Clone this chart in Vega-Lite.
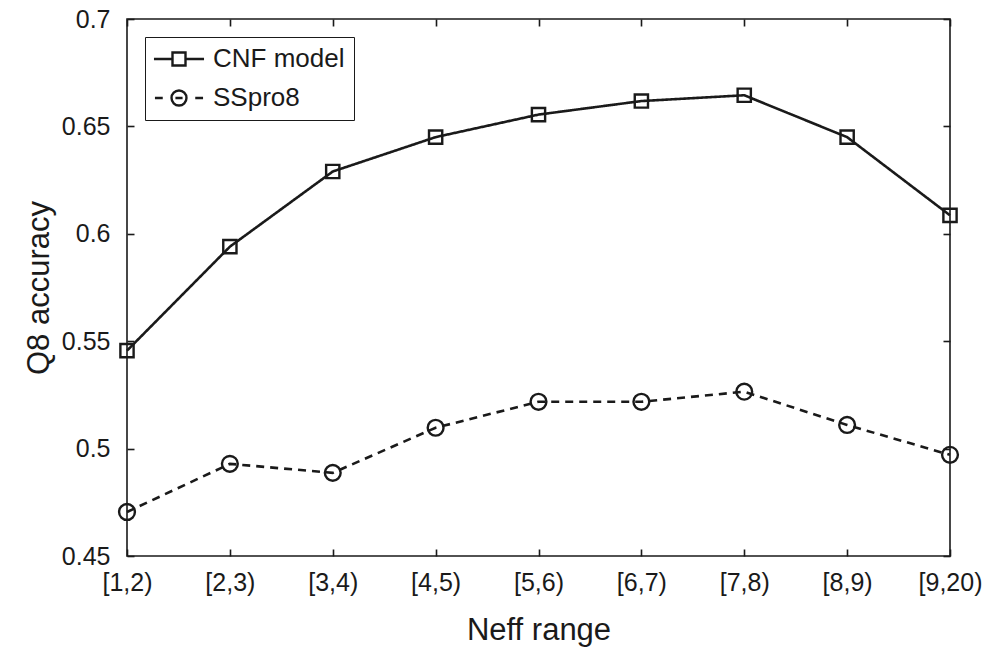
{
  "$schema": "https://vega.github.io/schema/vega-lite/v6.json",
  "width": 823,
  "height": 537,
  "autosize": {"type": "none"},
  "padding": {"left": 127, "top": 19, "right": 40, "bottom": 96},
  "background": "white",
  "config": {
    "font": "Liberation Sans",
    "view": {"stroke": "#1a1a1a", "strokeWidth": 1.6},
    "axis": {
      "domain": false,
      "grid": false,
      "tickColor": "#1a1a1a",
      "tickWidth": 1.6,
      "tickSize": 7,
      "labelColor": "#1a1a1a",
      "titleColor": "#1a1a1a",
      "labelFont": "Liberation Sans",
      "titleFont": "Liberation Sans",
      "labelFontSize": 25,
      "titleFontSize": 31,
      "titleFontWeight": "normal"
    }
  },
  "data": {
    "values": [
      {"range": "[1,2)", "series": "CNF model", "acc": 0.5456},
      {"range": "[2,3)", "series": "CNF model", "acc": 0.594},
      {"range": "[3,4)", "series": "CNF model", "acc": 0.629},
      {"range": "[4,5)", "series": "CNF model", "acc": 0.645},
      {"range": "[5,6)", "series": "CNF model", "acc": 0.6555},
      {"range": "[6,7)", "series": "CNF model", "acc": 0.6618},
      {"range": "[7,8)", "series": "CNF model", "acc": 0.6645},
      {"range": "[8,9)", "series": "CNF model", "acc": 0.645},
      {"range": "[9,20)", "series": "CNF model", "acc": 0.6086},
      {"range": "[1,2)", "series": "SSpro8", "acc": 0.4705},
      {"range": "[2,3)", "series": "SSpro8", "acc": 0.4929},
      {"range": "[3,4)", "series": "SSpro8", "acc": 0.4887},
      {"range": "[4,5)", "series": "SSpro8", "acc": 0.5097},
      {"range": "[5,6)", "series": "SSpro8", "acc": 0.5218},
      {"range": "[6,7)", "series": "SSpro8", "acc": 0.5218},
      {"range": "[7,8)", "series": "SSpro8", "acc": 0.5265},
      {"range": "[8,9)", "series": "SSpro8", "acc": 0.511},
      {"range": "[9,20)", "series": "SSpro8", "acc": 0.4971}
    ]
  },
  "resolve": {"axis": {"x": "independent", "y": "independent"}},
  "layer": [
    {
      "mark": {"type": "line", "color": "#1a1a1a", "strokeWidth": 2.6},
      "encoding": {
        "x": {
          "field": "range",
          "type": "ordinal",
          "sort": ["[1,2)", "[2,3)", "[3,4)", "[4,5)", "[5,6)", "[6,7)", "[7,8)", "[8,9)", "[9,20)"],
          "scale": {"type": "point", "padding": 0},
          "axis": {"title": "Neff range", "labelAngle": 0, "offset": -7, "labelPadding": 14, "titlePadding": 20}
        },
        "y": {
          "field": "acc",
          "type": "quantitative",
          "scale": {"domain": [0.45, 0.7], "nice": false, "zero": false},
          "axis": {"title": "Q8 accuracy", "values": [0.45, 0.5, 0.55, 0.6, 0.65, 0.7], "format": "~g", "offset": -7, "labelPadding": 17, "titlePadding": 6}
        },
        "detail": {"field": "series", "type": "nominal"},
        "strokeDash": {
          "condition": {"test": "datum.series === 'SSpro8'", "value": [8, 6]},
          "value": [1, 0]
        }
      }
    },
    {
      "mark": {"type": "point", "filled": false, "color": "#1a1a1a", "strokeWidth": 2.4, "opacity": 1},
      "encoding": {
        "x": {
          "field": "range",
          "type": "ordinal",
          "sort": ["[1,2)", "[2,3)", "[3,4)", "[4,5)", "[5,6)", "[6,7)", "[7,8)", "[8,9)", "[9,20)"],
          "scale": {"type": "point", "padding": 0},
          "axis": {"orient": "top", "labels": false, "title": null, "offset": -7}
        },
        "y": {
          "field": "acc",
          "type": "quantitative",
          "scale": {"domain": [0.45, 0.7], "nice": false, "zero": false},
          "axis": {"orient": "right", "labels": false, "title": null, "offset": -7, "values": [0.45, 0.5, 0.55, 0.6, 0.65, 0.7]}
        },
        "shape": {
          "condition": {"test": "datum.series === 'SSpro8'", "value": "circle"},
          "value": "square"
        },
        "size": {
          "condition": {"test": "datum.series === 'SSpro8'", "value": 250},
          "value": 175
        }
      }
    },
    {
      "mark": {"type": "point", "filled": false, "color": "#1a1a1a", "strokeWidth": 2.4, "opacity": 0},
      "encoding": {
        "x": {
          "field": "range",
          "type": "ordinal",
          "sort": ["[1,2)", "[2,3)", "[3,4)", "[4,5)", "[5,6)", "[6,7)", "[7,8)", "[8,9)", "[9,20)"],
          "scale": {"type": "point", "padding": 0},
          "axis": null
        },
        "y": {
          "field": "acc",
          "type": "quantitative",
          "scale": {"domain": [0.45, 0.7], "nice": false, "zero": false},
          "axis": null
        },
        "shape": {
          "field": "series",
          "type": "nominal",
          "scale": {
            "domain": ["CNF model", "SSpro8"],
            "range": ["M-3.85,0H-1M-1,-1H1V1H-1ZM1,0H3.85", "M-3.7,0H-2.5M-1.15,0A1.15,1.15 0 1,1 1.15,0A1.15,1.15 0 1,1 -1.15,0M2.5,0H3.7M-0.55,0H0.55"]
          },
          "legend": {
            "title": null,
            "orient": "top-left",
            "offset": 18,
            "padding": 9,
            "strokeColor": "#1a1a1a",
            "fillColor": "white",
            "symbolSize": 169,
            "symbolStrokeColor": "#1a1a1a",
            "symbolFillColor": "transparent",
            "symbolStrokeWidth": 2.4,
            "symbolOpacity": 1,
            "symbolOffset": 12,
            "labelOffset": 21,
            "labelFontSize": 26,
            "labelColor": "#1a1a1a",
            "labelFont": "Liberation Sans",
            "rowPadding": 13,
            "encode": {
              "legend": {"update": {"strokeWidth": {"value": 1.6}}},
              "symbols": {"update": {"opacity": {"value": 1}}}
            }
          }
        }
      }
    }
  ]
}
